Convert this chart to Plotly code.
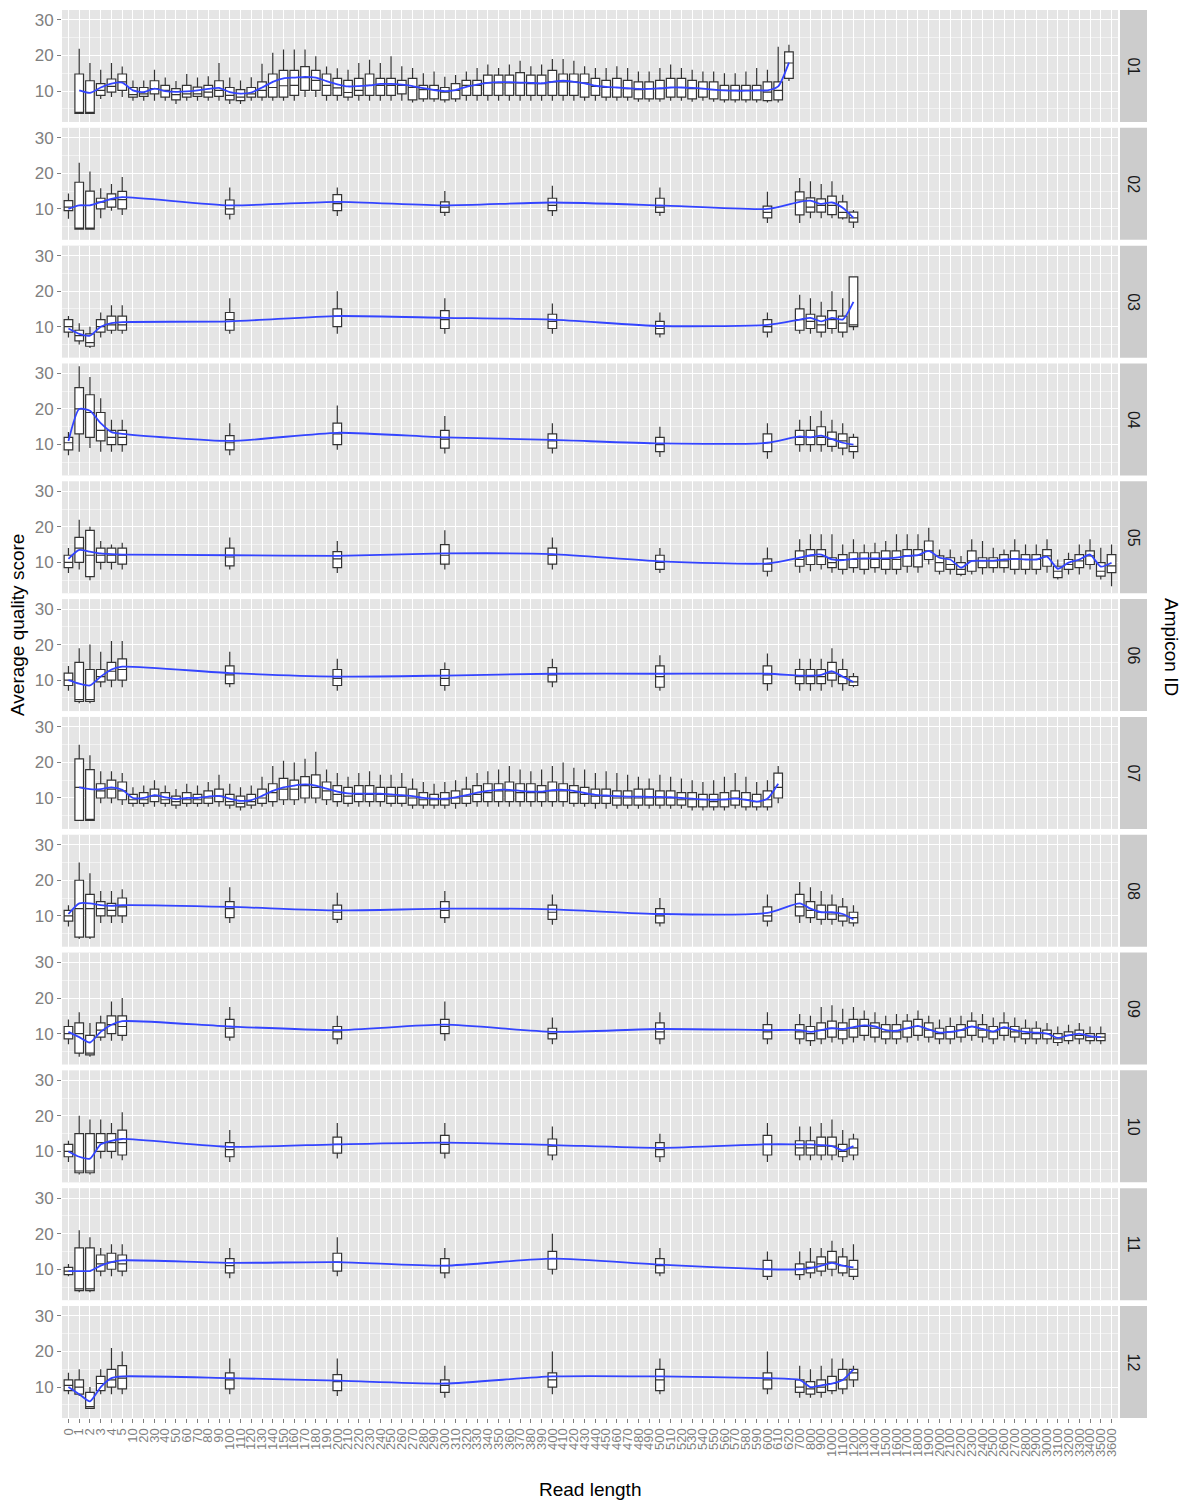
import plotly.graph_objects as go
from plotly.subplots import make_subplots

# ---------------- data ----------------
X_LEVELS = ["0", "1", "2", "3", "4", "5",
            "10", "20", "30", "40", "50", "60", "70", "80", "90", "100",
            "110", "120", "130", "140", "150", "160", "170", "180", "190", "200",
            "210", "220", "230", "240", "250", "260", "270", "280", "290", "300",
            "310", "320", "330", "340", "350", "360", "370", "380", "390", "400",
            "410", "420", "430", "440", "450", "460", "470", "480", "490", "500",
            "510", "520", "530", "540", "550", "560", "570", "580", "590", "600",
            "610", "620",
            "700", "800", "900", "1000", "1100", "1200", "1300", "1400", "1500", "1600",
            "1700", "1800", "1900", "2000", "2100", "2200", "2300", "2400", "2500", "2600",
            "2700", "2800", "2900", "3000", "3100", "3200", "3300", "3400", "3500", "3600"]

SPARSE_X = ["0", "1", "2", "3", "4", "5", "100", "200", "300", "400", "500", "600",
            "700", "800", "900", "1000", "1100", "1200"]

P01_X = X_LEVELS[1:68]
P07_X = X_LEVELS[1:67]
P05_X = SPARSE_X[:12] + X_LEVELS[68:98]
P09_X = SPARSE_X[:12] + X_LEVELS[68:97]

P01_Q1 = [3.7, 3.7, 8.8, 9.7, 10.2,
          8.3, 8.5, 9.2, 8.3, 7.5, 8.3, 8.5, 8.3, 8.5, 7.5,
          7.3, 8.3, 8.3, 8.3, 8.3, 8.8, 10.2, 10.2, 8.8, 8.8,
          8.3, 8.8, 8.8, 8.8, 8.8, 9.2, 7.5, 7.8, 7.8, 7.5,
          7.8, 8.8, 8.8, 8.8, 8.8, 8.8, 8.8, 8.8, 8.8, 8.8,
          8.8, 8.8, 8.3, 8.8, 8.3, 8.3, 8.3, 7.8, 7.8, 7.8,
          8.3, 8.3, 7.8, 8.3, 7.8, 7.5, 7.5, 7.5, 7.5, 7.3,
          7.5, 13.6]
P01_MED = [4.0, 4.0, 10.2, 11.3, 12.6,
           9.0, 9.2, 10.7, 10.2, 9.0, 9.2, 9.2, 9.7, 10.2, 8.8,
           8.3, 9.2, 10.2, 11.0, 11.5, 11.6, 13.8, 13.0, 11.6, 10.9,
           9.6, 10.2, 11.6, 11.6, 11.6, 11.6, 11.0, 10.4, 10.4, 9.7,
           10.2, 11.6, 11.6, 12.3, 12.3, 12.3, 12.3, 12.1, 12.1, 12.6,
           12.6, 12.6, 12.3, 11.3, 11.0, 11.0, 10.7, 10.4, 10.7, 10.7,
           11.0, 11.0, 10.7, 10.7, 10.4, 10.2, 10.2, 10.2, 10.2, 9.7,
           10.2, 17.9]
P01_Q3 = [14.8, 12.9, 12.1, 13.4, 14.8,
          11.0, 11.0, 12.9, 11.6, 10.7, 11.6, 11.1, 11.6, 12.9, 11.0,
          10.4, 11.0, 12.6, 14.8, 15.8, 15.8, 16.9, 15.8, 14.8, 13.6,
          13.0, 13.6, 14.8, 13.6, 13.6, 13.0, 13.6, 11.6, 11.6, 11.0,
          12.1, 13.0, 13.0, 14.5, 14.5, 14.5, 15.2, 14.5, 14.5, 15.8,
          14.8, 14.8, 14.8, 13.6, 13.0, 13.6, 13.0, 12.6, 12.6, 13.0,
          13.6, 13.6, 13.0, 12.6, 12.6, 11.6, 11.6, 11.6, 11.6, 12.6,
          12.6, 21.0]
P01_LO = [3.7, 3.7, 7.8, 8.3, 8.3,
          7.3, 7.3, 7.3, 7.3, 6.4, 7.3, 7.3, 7.3, 7.3, 6.4,
          6.4, 7.3, 7.3, 7.3, 7.3, 7.3, 8.3, 8.3, 7.3, 7.3,
          7.3, 7.3, 7.3, 7.3, 7.3, 7.3, 6.8, 7.0, 7.0, 6.8,
          7.0, 7.3, 7.3, 7.3, 7.3, 7.3, 7.3, 7.3, 7.3, 7.3,
          7.3, 7.3, 7.3, 7.3, 7.3, 7.3, 7.3, 7.0, 7.0, 7.0,
          7.3, 7.3, 7.0, 7.3, 7.0, 6.8, 6.8, 6.8, 6.8, 6.8,
          6.8, 12.8]
P01_HI = [21.9, 17.9, 16.0, 17.9, 16.9,
          13.0, 13.0, 16.0, 13.8, 12.8, 14.8, 13.8, 14.2, 17.9, 13.8,
          13.0, 13.9, 17.7, 20.8, 21.7, 21.7, 21.7, 19.8, 16.9, 16.4,
          16.0, 17.9, 18.8, 17.9, 19.8, 17.0, 16.5, 15.0, 15.5, 14.0,
          14.5, 15.5, 16.5, 17.5, 16.5, 17.5, 18.5, 17.0, 17.5, 19.0,
          19.0, 18.5, 17.0, 16.5, 16.5, 17.0, 16.5, 15.5, 15.5, 16.5,
          17.5, 16.5, 16.0, 15.5, 15.5, 15.0, 15.0, 15.5, 16.5, 16.0,
          22.5, 23.0]
P01_FIT = [10.2, 9.5, 11.0, 12.1, 12.4,
           10.2, 9.7, 10.7, 10.0, 9.8, 9.9, 10.2, 10.6, 10.9, 9.7,
           9.3, 9.6, 11.0, 12.6, 13.6, 13.8, 14.0, 13.8, 12.8, 11.9,
           11.3, 11.4, 11.6, 12.0, 12.0, 11.8, 11.4, 10.8, 10.3, 10.0,
           10.3, 11.2, 11.8, 12.3, 12.5, 12.5, 12.4, 12.3, 12.2, 12.6,
           12.9, 12.6, 12.2, 11.5, 11.2, 11.0, 10.8, 10.6, 10.6, 10.8,
           11.0, 11.0, 10.9, 10.7, 10.4, 10.2, 10.1, 10.1, 10.2, 10.2,
           11.3, 18.0]

P02_Q1 = [9.5, 4.3, 4.3, 10.0, 10.5, 10.0, 8.5, 9.5, 9.0, 9.5, 9.0, 7.5, 8.3, 9.1, 9.1, 8.4, 7.5, 6.3]
P02_MED = [10.5, 4.6, 4.6, 11.9, 12.6, 12.6, 10.0, 11.5, 10.5, 11.0, 10.5, 9.0, 12.5, 10.5, 11.0, 11.0, 9.0, 7.5]
P02_Q3 = [12.3, 17.5, 15.0, 13.0, 14.2, 14.9, 12.5, 14.0, 12.0, 13.0, 13.0, 10.8, 14.8, 13.1, 12.8, 13.6, 12.0, 9.1]
P02_LO = [7.2, 4.3, 4.3, 7.4, 9.5, 8.3, 7.0, 8.0, 8.0, 8.0, 8.0, 6.0, 6.0, 7.4, 7.4, 7.4, 7.0, 4.6]
P02_HI = [14.3, 23.0, 20.5, 15.8, 17.0, 19.0, 16.0, 16.0, 15.0, 16.5, 16.0, 14.8, 18.7, 17.8, 17.0, 17.8, 14.0, 9.7]
P02_FIT = [10.0, 11.0, 11.0, 11.9, 12.8, 13.3, 11.0, 12.0, 11.0, 11.8, 11.0, 10.0, 12.0, 12.3, 11.4, 11.8, 10.3, 7.5]

P03_Q1 = [8.5, 6.0, 4.5, 8.5, 9.0, 9.0, 9.0, 10.0, 9.5, 9.5, 8.0, 8.5, 9.0, 9.5, 8.5, 9.5, 8.5, 10.0]
P03_MED = [10.0, 7.5, 5.5, 10.0, 10.5, 10.5, 12.0, 13.0, 12.0, 11.5, 9.5, 10.0, 12.0, 11.5, 10.5, 12.0, 11.0, 10.5]
P03_Q3 = [12.0, 9.0, 8.0, 12.0, 13.0, 13.0, 14.0, 15.0, 14.5, 13.5, 11.5, 12.0, 15.0, 13.5, 13.0, 14.5, 13.0, 24.0]
P03_LO = [7.0, 5.0, 4.0, 7.0, 8.0, 8.0, 8.0, 8.0, 8.0, 8.0, 7.0, 7.0, 8.0, 8.0, 7.0, 8.0, 7.0, 9.0]
P03_HI = [13.0, 11.0, 10.0, 14.0, 16.0, 16.0, 18.0, 20.0, 18.0, 16.5, 14.0, 14.0, 19.0, 18.0, 17.0, 20.0, 18.0, 24.0]
P03_FIT = [9.5, 8.0, 7.5, 10.0, 11.0, 11.3, 11.5, 13.0, 12.5, 12.0, 10.2, 10.5, 12.0, 12.5, 11.5, 12.5, 12.0, 17.0]

P04_Q1 = [8.5, 13.0, 12.0, 11.0, 10.0, 10.0, 8.5, 10.0, 9.0, 9.0, 8.0, 8.0, 10.0, 10.0, 10.0, 9.5, 9.0, 8.0]
P04_MED = [10.5, 20.0, 19.0, 14.0, 12.0, 12.0, 10.5, 13.0, 11.5, 11.0, 10.0, 10.5, 12.0, 12.0, 12.0, 11.5, 11.0, 9.5]
P04_Q3 = [12.0, 26.0, 24.0, 19.0, 14.0, 14.0, 12.5, 16.0, 14.0, 13.0, 12.0, 13.0, 14.0, 14.0, 15.0, 13.5, 13.0, 12.0]
P04_LO = [7.0, 8.0, 9.0, 8.0, 8.0, 8.0, 7.0, 8.5, 7.5, 7.5, 6.5, 6.0, 8.0, 8.0, 8.0, 8.0, 7.0, 6.0]
P04_HI = [13.5, 32.0, 29.0, 23.0, 17.0, 17.0, 16.0, 21.0, 18.0, 16.0, 15.0, 16.0, 17.0, 18.0, 19.5, 17.0, 16.0, 13.0]
P04_FIT = [11.0, 20.0, 19.5, 16.0, 13.5, 13.0, 11.0, 13.3, 12.0, 11.3, 10.3, 10.5, 12.3, 12.0, 12.5, 11.5, 10.5, 10.0]

P05_Q1 = [8.5, 10.0, 6.0, 10.0, 10.0, 9.5, 9.0, 8.5, 9.5, 9.5, 8.0, 7.5,
          8.9, 9.4, 9.4, 8.5, 8.0, 8.5, 8.0, 8.5, 8.0, 8.0, 8.9, 8.7, 10.8, 7.5, 8.0,
          6.6, 7.5, 8.5, 8.5, 8.5, 8.0, 8.0, 8.0, 8.9, 5.7, 8.0, 8.5, 9.4, 6.1, 7.1]
P05_MED = [10.0, 14.0, 12.0, 12.0, 12.0, 12.0, 11.5, 11.0, 12.0, 12.0, 10.0, 9.5,
           10.8, 11.8, 11.6, 9.9, 10.8, 10.8, 11.0, 10.8, 10.8, 10.8, 11.8, 12.0, 13.2, 9.9, 9.4,
           8.0, 10.4, 10.4, 10.4, 10.4, 11.0, 10.8, 10.8, 11.8, 7.5, 9.4, 10.4, 11.8, 7.5, 9.0]
P05_Q3 = [12.0, 17.0, 19.0, 14.0, 14.0, 14.0, 14.0, 13.0, 15.0, 14.0, 12.0, 11.0,
          13.2, 13.6, 13.6, 11.3, 12.2, 12.7, 12.7, 12.7, 13.2, 13.2, 13.6, 13.6, 16.0, 11.8, 11.3,
          9.9, 13.2, 11.3, 11.3, 12.2, 13.2, 12.2, 12.2, 13.6, 8.9, 10.8, 12.2, 13.2, 9.9, 12.2]
P05_LO = [7.0, 8.0, 5.0, 8.0, 8.0, 8.0, 8.0, 7.0, 8.0, 8.0, 7.0, 6.0,
          7.1, 7.5, 8.0, 7.1, 6.6, 7.1, 6.6, 7.1, 6.6, 6.6, 7.1, 7.1, 9.4, 6.6, 6.6,
          6.1, 6.6, 6.6, 7.1, 7.1, 6.6, 6.6, 6.6, 7.1, 5.2, 6.6, 6.6, 8.0, 5.2, 3.3]
P05_HI = [14.0, 22.0, 20.0, 16.0, 15.0, 15.5, 17.0, 16.0, 19.0, 17.0, 14.0, 14.2,
          16.5, 17.9, 17.9, 17.9, 15.0, 16.5, 15.0, 15.5, 16.0, 17.9, 17.9, 17.9, 19.7, 13.6, 13.6,
          11.8, 16.5, 16.0, 14.1, 13.6, 16.5, 15.0, 15.0, 16.5, 10.8, 12.7, 15.0, 16.5, 14.1, 15.0]
P05_FIT = [11.0, 13.5, 13.0, 12.5, 12.3, 12.2, 12.0, 11.8, 12.5, 12.3, 10.3, 9.7,
           11.3, 12.0, 12.2, 10.8, 10.6, 11.0, 11.1, 11.1, 11.1, 11.3, 11.8, 12.0, 13.2, 11.3, 10.8,
           8.5, 10.4, 10.5, 10.5, 10.8, 11.0, 10.8, 10.8, 11.6, 8.2, 9.9, 10.8, 12.2, 8.8, 9.9]

P06_Q1 = [8.5, 4.0, 4.0, 9.5, 10.0, 10.0, 9.0, 8.5, 8.5, 9.5, 8.0, 9.0, 9.0, 9.0, 9.0, 10.0, 9.0, 8.5]
P06_MED = [10.0, 4.5, 4.5, 11.0, 12.5, 13.0, 11.5, 10.5, 10.5, 11.5, 11.0, 11.5, 11.0, 11.0, 11.0, 12.0, 11.0, 9.5]
P06_Q3 = [12.0, 15.0, 13.0, 13.0, 15.0, 16.0, 14.0, 13.0, 13.0, 13.5, 14.0, 14.0, 13.0, 13.0, 13.0, 15.0, 13.0, 11.0]
P06_LO = [7.0, 3.5, 3.5, 8.0, 8.0, 8.0, 8.0, 7.0, 7.0, 8.0, 7.0, 7.0, 7.0, 7.0, 7.0, 8.0, 7.0, 8.0]
P06_HI = [14.0, 19.0, 20.0, 18.0, 21.0, 21.0, 18.0, 16.0, 15.0, 16.0, 17.0, 17.5, 16.0, 16.0, 16.0, 19.0, 16.0, 12.0]
P06_FIT = [10.0, 9.0, 8.5, 11.0, 13.0, 13.8, 12.0, 11.0, 11.3, 11.8, 11.8, 11.8, 11.3, 11.3, 11.5, 12.5, 11.0, 9.5]

P07_Q1 = [3.7, 3.7, 10.0, 10.0, 9.5,
          8.5, 8.5, 9.0, 8.5, 8.0, 8.5, 8.5, 8.5, 9.0, 8.0,
          7.5, 8.0, 8.5, 9.0, 9.5, 9.5, 10.0, 10.0, 9.5, 9.0,
          8.5, 9.0, 9.0, 9.0, 8.5, 8.5, 8.0, 8.0, 8.0, 8.0,
          8.5, 8.5, 9.0, 9.0, 9.0, 9.0, 9.0, 9.0, 9.0, 9.0,
          9.0, 8.5, 8.5, 8.5, 8.5, 8.0, 8.0, 8.0, 8.0, 8.0,
          8.0, 8.0, 7.5, 7.5, 7.5, 7.5, 8.0, 7.5, 7.5, 7.5,
          10.0]
P07_MED = [13.0, 4.0, 12.0, 12.5, 12.0,
           9.5, 9.5, 10.5, 9.5, 9.0, 9.5, 9.5, 10.0, 10.5, 9.0,
           8.5, 9.0, 10.0, 11.5, 12.5, 12.5, 13.5, 13.0, 12.0, 11.0,
           10.5, 11.0, 11.0, 11.0, 10.5, 10.5, 10.0, 9.5, 9.5, 9.5,
           10.0, 10.5, 11.0, 11.5, 12.0, 12.0, 11.5, 11.5, 11.5, 12.0,
           12.0, 11.5, 11.0, 10.5, 10.5, 10.0, 10.0, 10.0, 10.0, 10.0,
           10.0, 9.5, 9.5, 9.5, 9.0, 9.5, 10.0, 9.5, 9.0, 9.5,
           13.0]
P07_Q3 = [21.0, 18.0, 14.0, 15.0, 14.5,
          11.0, 11.5, 12.5, 11.5, 10.5, 11.5, 11.0, 12.0, 12.5, 11.0,
          10.5, 11.0, 12.5, 14.0, 15.5, 15.0, 16.0, 16.5, 14.5, 13.5,
          13.0, 13.5, 13.5, 13.0, 13.0, 13.0, 12.5, 11.5, 11.0, 11.5,
          12.0, 12.5, 13.5, 14.0, 14.0, 14.5, 14.0, 14.0, 13.5, 14.5,
          14.0, 13.5, 13.0, 12.5, 12.5, 12.0, 12.0, 12.5, 12.5, 12.0,
          12.0, 11.5, 11.5, 11.0, 11.0, 11.5, 12.0, 11.5, 11.0, 12.0,
          17.0]
P07_LO = [3.7, 3.7, 8.5, 8.5, 8.0,
          7.5, 7.5, 7.5, 7.5, 7.0, 7.5, 7.5, 7.5, 7.5, 7.0,
          6.5, 7.0, 7.5, 7.5, 8.0, 8.0, 8.5, 8.5, 8.0, 7.5,
          7.5, 7.5, 7.5, 7.5, 7.5, 7.5, 7.0, 7.0, 7.0, 7.0,
          7.0, 7.5, 7.5, 7.5, 7.5, 7.5, 7.5, 7.5, 7.5, 7.5,
          7.5, 7.5, 7.5, 7.0, 7.0, 7.0, 7.0, 7.0, 7.0, 7.0,
          7.0, 7.0, 6.5, 6.5, 6.5, 6.5, 7.0, 6.5, 6.5, 6.5,
          8.5]
P07_HI = [25.0, 22.0, 17.5, 17.5, 17.0,
          13.0, 13.5, 15.0, 13.5, 12.5, 14.0, 13.5, 14.5, 16.5, 14.0,
          13.0, 13.5, 16.0, 19.0, 20.5, 20.0, 21.0, 23.0, 18.0, 17.0,
          16.0, 17.0, 17.5, 16.5, 16.5, 17.0, 15.5, 14.5, 14.0, 14.5,
          15.0, 16.0, 17.0, 17.5, 18.0, 19.0, 18.0, 17.5, 18.0, 19.0,
          20.0, 18.5, 18.0, 17.0, 17.5, 17.0, 16.5, 16.0, 15.5, 16.5,
          16.0, 15.5, 15.0, 14.5, 15.0, 16.0, 17.0, 16.0, 14.5, 15.0,
          19.0]
P07_FIT = [13.0, 12.5, 12.5, 13.0, 12.3,
           10.0, 10.0, 10.8, 10.2, 9.7, 10.0, 10.0, 10.4, 10.6, 9.8,
           9.2, 9.4, 10.6, 12.0, 13.0, 13.5, 13.8, 13.5, 12.6, 11.8,
           11.3, 11.2, 11.2, 11.2, 11.0, 10.8, 10.5, 10.0, 9.8, 9.8,
           10.2, 10.8, 11.5, 12.0, 12.3, 12.3, 12.0, 11.8, 11.8, 12.2,
           12.3, 12.0, 11.4, 10.9, 10.7, 10.5, 10.4, 10.4, 10.3, 10.3,
           10.2, 10.0, 9.8, 9.6, 9.5, 9.6, 9.8, 9.5, 9.0, 9.8,
           14.0]

P08_Q1 = [8.5, 4.0, 4.0, 10.0, 10.0, 10.0, 9.5, 9.0, 9.5, 9.0, 8.0, 8.5, 10.0, 9.5, 9.0, 9.0, 8.5, 8.0]
P08_MED = [10.0, 12.0, 12.0, 12.0, 11.5, 12.5, 12.0, 11.0, 11.5, 11.0, 10.0, 10.0, 12.5, 11.5, 11.0, 10.5, 10.0, 9.5]
P08_Q3 = [11.5, 20.0, 16.0, 14.0, 13.5, 15.0, 14.0, 13.0, 14.0, 13.0, 12.0, 12.5, 16.0, 14.0, 13.0, 13.0, 12.5, 11.0]
P08_LO = [7.0, 3.5, 3.5, 8.0, 8.0, 8.0, 8.0, 8.0, 8.0, 7.5, 7.0, 7.0, 8.0, 8.0, 7.5, 7.5, 7.0, 7.0]
P08_HI = [13.0, 25.0, 22.0, 17.0, 17.0, 17.5, 18.0, 16.5, 17.0, 16.0, 15.0, 16.0, 19.5, 18.0, 17.0, 16.0, 15.0, 13.0]
P08_FIT = [10.5, 13.5, 13.5, 13.0, 12.8, 13.0, 12.5, 11.5, 12.0, 11.8, 10.5, 10.8, 13.5, 12.0, 11.0, 11.0, 10.5, 9.0]

P09_Q1 = [8.5, 4.5, 4.0, 9.0, 10.0, 9.5, 9.0, 8.5, 10.0, 8.5, 8.5, 8.5,
          8.5, 8.0, 8.5, 9.0, 8.5, 9.0, 9.5, 9.0, 8.5, 8.5, 9.0, 9.5, 9.0, 8.5, 8.5,
          9.0, 9.5, 9.0, 8.5, 9.5, 9.0, 8.5, 8.5, 8.5, 7.5, 8.0, 8.5, 8.0, 8.0]
P09_MED = [10.0, 10.0, 4.5, 11.0, 12.5, 12.0, 11.5, 10.5, 12.0, 10.0, 10.5, 10.5,
           10.5, 10.0, 11.0, 11.5, 11.0, 11.5, 12.0, 11.5, 10.5, 10.5, 11.5, 12.0, 11.0, 10.0, 10.5,
           11.0, 12.0, 11.0, 10.5, 11.5, 10.5, 10.0, 10.0, 10.0, 8.5, 9.5, 9.5, 9.0, 9.0]
P09_Q3 = [12.0, 13.0, 9.5, 13.0, 15.0, 15.0, 14.0, 12.0, 14.0, 11.5, 13.0, 12.5,
          12.5, 12.0, 13.0, 13.5, 13.0, 14.0, 14.0, 13.0, 12.5, 12.5, 13.5, 14.0, 13.0, 11.5, 12.0,
          12.5, 13.5, 12.5, 12.0, 13.0, 12.0, 11.5, 11.5, 11.0, 10.0, 10.5, 11.0, 10.0, 10.0]
P09_LO = [7.0, 3.5, 3.5, 8.0, 8.0, 8.0, 8.0, 7.0, 8.0, 7.0, 7.0, 7.0,
          7.0, 6.5, 7.0, 7.5, 7.0, 7.5, 8.0, 7.5, 7.0, 7.0, 7.5, 8.0, 7.5, 7.0, 7.0,
          7.5, 8.0, 7.5, 7.0, 8.0, 7.5, 7.0, 7.0, 7.0, 6.5, 7.0, 7.0, 7.0, 7.0]
P09_HI = [14.0, 16.0, 13.0, 15.0, 19.0, 20.0, 17.5, 15.0, 19.0, 14.5, 16.0, 16.0,
          15.5, 15.0, 17.5, 18.0, 17.0, 17.5, 16.5, 16.0, 15.0, 15.5, 15.5, 16.5, 15.0, 14.0, 14.5,
          15.0, 16.0, 15.5, 14.5, 16.0, 14.5, 14.0, 13.5, 13.0, 12.0, 12.5, 13.0, 12.0, 12.0]
P09_FIT = [10.5, 9.0, 7.5, 10.5, 12.5, 13.5, 12.0, 11.0, 12.5, 10.5, 11.3, 11.0,
           11.0, 10.5, 11.0, 11.5, 11.3, 11.8, 12.3, 12.0, 11.0, 10.8, 11.5, 12.2, 11.2, 10.3, 10.5,
           11.0, 12.0, 11.3, 10.6, 11.8, 11.0, 10.5, 10.3, 10.0, 8.8, 9.5, 10.0, 9.3, 9.0]

P10_Q1 = [8.5, 4.0, 4.0, 10.0, 10.0, 9.0, 8.5, 9.5, 9.5, 9.0, 8.5, 9.0, 9.0, 9.0, 9.0, 9.0, 8.5, 9.0]
P10_MED = [10.0, 4.5, 4.5, 12.5, 12.5, 12.5, 10.5, 12.0, 12.0, 11.5, 10.5, 12.0, 11.0, 11.0, 11.5, 11.5, 10.0, 11.0]
P10_Q3 = [12.0, 15.0, 15.0, 15.0, 15.0, 16.0, 12.5, 14.0, 14.5, 13.5, 12.5, 14.5, 13.0, 13.0, 14.0, 14.0, 12.0, 13.5]
P10_LO = [7.0, 3.5, 3.5, 8.0, 8.0, 7.5, 7.0, 8.0, 8.0, 7.5, 7.0, 7.0, 7.5, 7.5, 7.5, 7.5, 7.0, 7.5]
P10_HI = [13.0, 20.0, 19.0, 19.0, 18.0, 21.0, 16.0, 18.0, 18.0, 17.0, 15.0, 18.0, 17.0, 17.0, 18.0, 19.0, 16.0, 15.0]
P10_FIT = [10.0, 8.5, 8.0, 12.0, 13.0, 13.5, 11.3, 12.0, 12.5, 11.8, 11.0, 12.0, 12.0, 12.0, 11.8, 11.5, 10.3, 11.5]

P11_Q1 = [8.5, 4.0, 4.0, 9.5, 10.0, 9.5, 9.0, 9.5, 9.0, 10.0, 9.0, 8.0, 8.5, 9.0, 9.5, 10.0, 9.0, 8.0]
P11_MED = [9.5, 4.5, 4.5, 11.5, 12.0, 11.5, 11.0, 12.0, 11.0, 13.0, 11.0, 10.0, 10.0, 10.5, 11.5, 12.0, 11.0, 10.0]
P11_Q3 = [10.5, 16.0, 16.0, 14.0, 14.5, 14.0, 13.0, 14.5, 13.0, 15.0, 13.0, 12.5, 11.5, 12.0, 13.5, 15.0, 13.5, 12.5]
P11_LO = [8.0, 3.5, 3.5, 8.0, 8.0, 8.0, 7.5, 8.0, 7.5, 8.5, 8.0, 7.0, 7.0, 7.5, 8.0, 8.0, 8.0, 7.0]
P11_HI = [11.5, 21.0, 19.0, 16.0, 17.0, 17.0, 16.0, 19.0, 16.0, 20.0, 16.0, 15.0, 15.0, 16.0, 16.0, 18.0, 16.0, 17.0]
P11_FIT = [9.5, 9.5, 9.5, 11.0, 12.0, 12.5, 11.8, 12.0, 11.0, 13.0, 11.3, 10.0, 10.0, 10.3, 11.0, 11.8, 11.0, 10.5]

P12_Q1 = [9.0, 8.0, 4.0, 9.0, 10.0, 9.5, 9.5, 9.0, 8.5, 10.0, 9.0, 9.5, 8.5, 8.0, 8.5, 9.0, 9.5, 12.0]
P12_MED = [10.5, 10.0, 4.5, 11.0, 12.0, 12.5, 12.0, 11.5, 10.5, 12.0, 12.0, 12.0, 10.0, 9.5, 10.0, 11.0, 12.0, 14.0]
P12_Q3 = [12.0, 12.0, 8.5, 13.0, 15.0, 16.0, 14.0, 13.5, 12.0, 14.0, 15.0, 14.0, 12.0, 11.5, 12.0, 13.0, 15.0, 15.0]
P12_LO = [8.0, 7.5, 4.0, 8.0, 8.0, 8.0, 8.0, 7.5, 7.0, 8.0, 8.0, 8.0, 7.0, 7.0, 7.0, 8.0, 8.0, 10.0]
P12_HI = [14.0, 15.0, 10.0, 15.0, 21.0, 20.0, 18.0, 18.0, 16.0, 20.0, 18.0, 20.0, 16.0, 15.0, 16.0, 18.0, 18.0, 16.0]
P12_FIT = [10.0, 8.0, 6.0, 10.0, 12.5, 13.0, 12.5, 11.8, 11.0, 13.0, 13.0, 12.5, 12.0, 10.0, 10.5, 11.0, 12.0, 15.0]

AMPLICON_IDS = ["01", "02", "03", "04", "05", "06", "07", "08", "09", "10", "11", "12"]

PANELS = [
    (P01_X, P01_Q1, P01_MED, P01_Q3, P01_LO, P01_HI, P01_FIT),
    (SPARSE_X, P02_Q1, P02_MED, P02_Q3, P02_LO, P02_HI, P02_FIT),
    (SPARSE_X, P03_Q1, P03_MED, P03_Q3, P03_LO, P03_HI, P03_FIT),
    (SPARSE_X, P04_Q1, P04_MED, P04_Q3, P04_LO, P04_HI, P04_FIT),
    (P05_X, P05_Q1, P05_MED, P05_Q3, P05_LO, P05_HI, P05_FIT),
    (SPARSE_X, P06_Q1, P06_MED, P06_Q3, P06_LO, P06_HI, P06_FIT),
    (P07_X, P07_Q1, P07_MED, P07_Q3, P07_LO, P07_HI, P07_FIT),
    (SPARSE_X, P08_Q1, P08_MED, P08_Q3, P08_LO, P08_HI, P08_FIT),
    (P09_X, P09_Q1, P09_MED, P09_Q3, P09_LO, P09_HI, P09_FIT),
    (SPARSE_X, P10_Q1, P10_MED, P10_Q3, P10_LO, P10_HI, P10_FIT),
    (SPARSE_X, P11_Q1, P11_MED, P11_Q3, P11_LO, P11_HI, P11_FIT),
    (SPARSE_X, P12_Q1, P12_MED, P12_Q3, P12_LO, P12_HI, P12_FIT),
]

# ---------------- figure ----------------
W, H = 1188, 1502
ML, MR, MT, MB = 62, 70, 10, 84
PW = W - ML - MR
PH = H - MT - MB
GAP = 5.8

FONT = "Liberation Sans, Arial, sans-serif"
GREY_TXT = "#7F7F7F"

fig = make_subplots(rows=12, cols=1, shared_xaxes=True, vertical_spacing=GAP / PH)

for i, (xs, q1, med, q3, lo, hi, fit) in enumerate(PANELS):
    r = i + 1
    fig.add_trace(go.Box(
        x=xs, q1=q1, median=med, q3=q3, lowerfence=lo, upperfence=hi,
        boxpoints=False, fillcolor="white", whiskerwidth=0, width=0.8,
        line=dict(color="#333333", width=1.2), showlegend=False, hoverinfo="skip"),
        row=r, col=1)
    fig.add_trace(go.Scatter(
        x=xs, y=fit, mode="lines", line=dict(color="#3344FF", width=1.8, shape="spline", smoothing=0.6),
        showlegend=False, hoverinfo="skip"),
        row=r, col=1)

fig.update_xaxes(type="category", categoryorder="array", categoryarray=X_LEVELS,
                 range=[-0.6, len(X_LEVELS) - 0.4],
                 showgrid=True, gridcolor="white", gridwidth=1,
                 zeroline=False, showline=False, ticks="",
                 tickmode="array", tickvals=X_LEVELS, ticktext=X_LEVELS)
fig.update_xaxes(ticks="outside", ticklen=4, tickcolor=GREY_TXT, tickwidth=1,
                 tickangle=-90, showticklabels=True,
                 tickfont=dict(family=FONT, size=13, color=GREY_TXT),
                 row=12, col=1)

fig.update_yaxes(range=[1.3, 32.8], tickmode="array", tickvals=[10, 20, 30],
                 ticks="outside", ticklen=4, tickcolor=GREY_TXT, tickwidth=1,
                 tickfont=dict(family=FONT, size=17, color=GREY_TXT),
                 showgrid=True, gridcolor="white", gridwidth=1.2,
                 zeroline=False, showline=False,
                 minor=dict(tickmode="array", tickvals=[5, 15, 25], showgrid=True,
                            gridcolor="#F2F2F2", gridwidth=0.6, ticks=""))

shapes = []
annotations = []
x0s = (1120 - ML) / PW
x1s = (1147 - ML) / PW
for i, aid in enumerate(AMPLICON_IDS):
    yref = "y domain" if i == 0 else f"y{i + 1} domain"
    shapes.append(dict(type="rect", xref="paper", yref=yref, x0=x0s, x1=x1s, y0=0, y1=1,
                       fillcolor="#CCCCCC", line=dict(width=0), layer="below"))
    annotations.append(dict(text=aid, xref="paper", yref=yref, x=(x0s + x1s) / 2, y=0.5,
                            xanchor="center", yanchor="middle",
                            showarrow=False, textangle=90,
                            font=dict(family=FONT, size=16, color="#1A1A1A")))

annotations.append(dict(text="Average quality score", xref="paper", yref="paper",
                        x=(17 - ML) / PW, y=(MT + PH - 625) / PH, showarrow=False,
                        xanchor="center", yanchor="middle",
                        textangle=-90, font=dict(family=FONT, size=19, color="#000000")))
annotations.append(dict(text="Ampicon ID", xref="paper", yref="paper",
                        x=(1172 - ML) / PW, y=(MT + PH - 647) / PH, showarrow=False,
                        xanchor="center", yanchor="middle",
                        textangle=90, font=dict(family=FONT, size=19, color="#000000")))
annotations.append(dict(text="Read length", xref="paper", yref="paper",
                        x=0.5, y=(MT + PH - 1490) / PH, showarrow=False,
                        xanchor="center", yanchor="middle",
                        font=dict(family=FONT, size=19, color="#000000")))

fig.update_layout(width=W, height=H, margin=dict(l=ML, r=MR, t=MT, b=MB),
                  paper_bgcolor="white", plot_bgcolor="#E5E5E5",
                  shapes=shapes, annotations=annotations, boxmode="overlay",
                  font=dict(family=FONT))

fig.write_html("out.html")
